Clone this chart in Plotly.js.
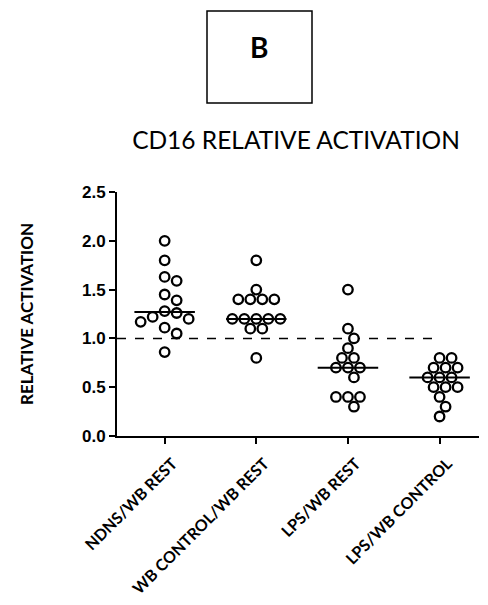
<!DOCTYPE html>
<html>
<head>
<meta charset="utf-8">
<script src="https://cdn.plot.ly/plotly-3.0.1.min.js"></script>
<style>html,body{margin:0;padding:0;background:#fff;}#chart{width:488px;height:605px;}</style>
</head>
<body>
<div id="chart"></div>
<script>
// ---- data ----
var categories = ["NDNS/WB REST", "WB CONTROL/WB REST", "LPS/WB REST", "LPS/WB CONTROL"];
var ndnsRest = [2.0, 1.8, 1.63, 1.59, 1.45, 1.39, 1.28, 1.26, 1.22, 1.20, 1.17, 1.11, 1.05, 0.86];
var controlRest = [1.8, 1.5, 1.4, 1.4, 1.4, 1.4, 1.2, 1.2, 1.2, 1.2, 1.2, 1.1, 1.1, 0.8];
var lpsRest = [1.5, 1.1, 1.0, 0.9, 0.8, 0.8, 0.7, 0.7, 0.7, 0.6, 0.4, 0.4, 0.4, 0.3];
var lpsControl = [0.8, 0.8, 0.7, 0.7, 0.7, 0.6, 0.6, 0.6, 0.5, 0.5, 0.5, 0.4, 0.3, 0.2];
var yTickVals = [0, 0.5, 1.0, 1.5, 2.0, 2.5];
var yTickText = ["0.0", "0.5", "1.0", "1.5", "2.0", "2.5"];
var referenceLevel = 1.0;

var groups = [ndnsRest, controlRest, lpsRest, lpsControl];

// ---- layout geometry ----
var W = 488, H = 605;
var M = {l: 117, r: 9, t: 192, b: 169};
var xRange = [-0.52, 3.43], yRange = [0, 2.5];
var pxPerX = (W - M.l - M.r) / (xRange[1] - xRange[0]);
var pxPerY = (H - M.t - M.b) / (yRange[1] - yRange[0]);

// simple beeswarm: nearest free horizontal slot (in pixels) for each point
function swarm(vals, center) {
  var D = 11, step = 6, placed = [], xs = [];
  vals.forEach(function (v) {
    var py = v * pxPerY;
    for (var k = 0; k < 80; k++) {
      var off = (k === 0) ? 0 : (k % 2 ? 1 : -1) * Math.ceil(k / 2) * step;
      var ok = placed.every(function (p) {
        var dx = p[0] - off, dy = p[1] - py;
        return dx * dx + dy * dy >= D * D - 0.01;
      });
      if (ok) { placed.push([off, py]); xs.push(center + off / pxPerX); break; }
    }
  });
  return xs;
}
function median(a) {
  var s = a.slice().sort(function (p, q) { return p - q; });
  var n = s.length;
  return n % 2 ? s[(n - 1) / 2] : (s[n / 2 - 1] + s[n / 2]) / 2;
}

var traces = [];
groups.forEach(function (vals, i) {
  traces.push({
    type: "scatter", mode: "markers", name: categories[i],
    x: swarm(vals, i), y: vals,
    marker: {symbol: "circle", size: 9.5, color: "#ffffff", line: {color: "#000000", width: 2.3}},
    hoverinfo: "y", showlegend: false
  });
});
groups.forEach(function (vals, i) {
  var m = median(vals);
  traces.push({
    type: "scatter", mode: "lines", x: [i - 0.33, i + 0.33], y: [m, m],
    line: {color: "#000000", width: 2}, hoverinfo: "skip", showlegend: false
  });
});

function px2paperX(px) { return (px - M.l) / (W - M.l - M.r); }
function px2paperY(py) { return (H - M.b - py) / (H - M.t - M.b); }

var sans = "Lato, 'Open Sans', sans-serif";
var layout = {
  width: W, height: H,
  margin: M,
  paper_bgcolor: "#ffffff", plot_bgcolor: "#ffffff",
  showlegend: false,
  title: {
    text: "CD16 RELATIVE ACTIVATION",
    font: {family: sans, size: 24.5, color: "#000"},
    x: 296 / W, xref: "container", xanchor: "center",
    y: 1 - 140 / H, yref: "container", yanchor: "middle"
  },
  xaxis: {
    range: xRange, tickmode: "array", tickvals: [0, 1, 2, 3], ticktext: categories,
    tickangle: -45, ticks: "outside", ticklen: 6, tickwidth: 2, tickcolor: "#000",
    ticklabelstandoff: 4, ticklabelshift: 8,
    showline: true, linewidth: 2, linecolor: "#000", showgrid: false, zeroline: false,
    tickfont: {family: sans, size: 16, color: "#000", weight: "bold"},
    fixedrange: true
  },
  yaxis: {
    range: yRange, tickmode: "array", tickvals: yTickVals, ticktext: yTickText,
    ticks: "outside", ticklen: 6, tickwidth: 2, tickcolor: "#000",
    showline: true, linewidth: 2, linecolor: "#000", showgrid: false, zeroline: false,
    tickfont: {family: "'Liberation Sans', Arial, sans-serif", size: 17, color: "#000", weight: "bold"},
    title: {text: "RELATIVE ACTIVATION", standoff: 44,
      font: {family: sans, size: 17, color: "#000", weight: "bold"}},
    fixedrange: true
  },
  shapes: [
    {type: "line", xref: "x", yref: "y", x0: xRange[0], x1: 3, y0: referenceLevel, y1: referenceLevel,
     line: {color: "#000", width: 1.5, dash: "dash"}, layer: "below"},
    {type: "rect", xref: "paper", yref: "paper",
     x0: px2paperX(207), x1: px2paperX(312), y0: px2paperY(103), y1: px2paperY(11),
     line: {color: "#000", width: 1.5}, fillcolor: "rgba(0,0,0,0)"}
  ],
  annotations: [
    {text: "<b>B</b>", xref: "paper", yref: "paper", x: px2paperX(259), y: px2paperY(47),
     xanchor: "center", yanchor: "middle", showarrow: false,
     font: {family: sans, size: 28, color: "#000"}}
  ]
};

Plotly.newPlot("chart", traces, layout, {displayModeBar: false, staticPlot: true});
</script>
</body>
</html>
